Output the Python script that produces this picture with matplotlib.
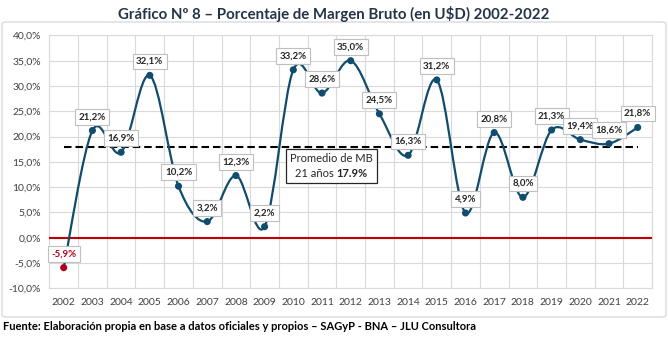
import matplotlib
matplotlib.use("Agg")
import matplotlib.pyplot as plt
import numpy as np
from matplotlib.path import Path
from matplotlib.patches import PathPatch, FancyBboxPatch
from matplotlib.offsetbox import TextArea, HPacker, VPacker, AnnotationBbox
from matplotlib.ticker import FuncFormatter, FixedLocator

# Gross margin (%) per year
years = [str(y) for y in range(2002, 2023)]
margen = [-5.9, 21.2, 16.9, 32.1, 10.2, 3.2, 12.3, 2.2, 33.2, 28.6, 35.0,
          24.5, 16.3, 31.2, 4.9, 20.8, 8.0, 21.3, 19.4, 18.6, 21.8]
promedio = 17.9
y_ticks = list(range(-10, 45, 5))

plt.rcParams['font.family'] = ['Lato', 'DejaVu Sans']

LINE = '#0F4C6E'
NEG = '#B00020'
GRID = '#D9D9D9'
TXT = '#404040'

fig = plt.figure(figsize=(6.68, 3.40), dpi=100)
ax = fig.add_axes([0.0739, 0.1518, 0.9022, 0.7441])

x = np.arange(len(years), dtype=float)
y = np.array(margen, dtype=float)

# smoothed line: cubic Bezier segments with Catmull-Rom tangents
pts = np.column_stack([x, y])
n = len(pts)
verts = [pts[0]]
codes = [Path.MOVETO]
for i in range(n - 1):
    p0 = pts[max(i - 1, 0)]
    p1 = pts[i]
    p2 = pts[i + 1]
    p3 = pts[min(i + 2, n - 1)]
    verts += [p1 + (p2 - p0) / 6.0, p2 - (p3 - p1) / 6.0, p2]
    codes += [Path.CURVE4] * 3
ax.add_patch(PathPatch(Path(verts, codes), facecolor='none', edgecolor=LINE,
                       lw=1.6, zorder=4, capstyle='round', joinstyle='round'))

colors = [NEG if v < 0 else LINE for v in margen]
ax.scatter(x, y, s=26, c=colors, zorder=5, linewidths=0)

# zero line and average line
ax.axhline(0, color='#C00000', lw=1.5, zorder=3)
ax.plot([x[0], x[-1]], [promedio, promedio], color='black', lw=1.5,
        linestyle=(0, (3.6, 1.9)), zorder=3)

# value labels
for xi, v in zip(x, margen):
    lab = f"{v:.1f}%".replace('.', ',')
    ax.annotate(lab, (xi, v), xytext=(0, 10), textcoords='offset points',
                ha='center', va='center', fontsize=7, fontweight='bold',
                color=NEG if v < 0 else '#262626', zorder=6,
                bbox=dict(boxstyle='square,pad=0.35', fc='white', ec='#BFBFBF', lw=0.8))

# average annotation box
line1 = TextArea("Promedio de MB", textprops=dict(fontsize=8, color='#262626'))
l2a = TextArea("21 años ", textprops=dict(fontsize=8, color='#262626'))
l2b = TextArea("17.9%", textprops=dict(fontsize=8, color='#262626', fontweight='bold'))
line2 = HPacker(children=[l2a, l2b], align='baseline', pad=0, sep=0)
pack = VPacker(children=[line1, line2], align='center', pad=0, sep=3)
ab = AnnotationBbox(pack, (0.468, 0.484), xycoords='axes fraction', frameon=True,
                    box_alignment=(0.5, 0.5), pad=0.6,
                    bboxprops=dict(boxstyle='square', ec='#262626', fc='white', lw=0.9))
ab.set_zorder(6)
ax.add_artist(ab)

# axes, ticks, grid
ax.set_xlim(-0.5, len(years) - 0.5)
ax.set_ylim(-10, 40)
ax.set_xticks(x)
ax.set_xticklabels(years)
ax.xaxis.set_minor_locator(FixedLocator(np.arange(-0.5, len(years), 1.0)))
ax.yaxis.set_major_locator(FixedLocator(y_ticks))
ax.yaxis.set_major_formatter(FuncFormatter(lambda v, p: f"{v:.1f}%".replace('.', ',')))
ax.tick_params(axis='both', which='both', length=0, labelsize=7.5, colors=TXT)
ax.tick_params(axis='x', pad=7)
ax.tick_params(axis='y', pad=6)
ax.grid(axis='y', which='major', color=GRID, lw=0.8, zorder=0)
ax.grid(axis='x', which='minor', color=GRID, lw=0.8, zorder=0)
ax.grid(axis='x', which='major', visible=False)
ax.set_axisbelow(True)
for s in ax.spines.values():
    s.set_color(GRID)
    s.set_linewidth(0.8)

# chart frame
frame = FancyBboxPatch((2 / 668, 1 - 317 / 340), 664 / 668, 295 / 340,
                       boxstyle='round,pad=0,rounding_size=0.006',
                       transform=fig.transFigure, fill=False, ec='#D4D4DC', lw=0.9)
fig.patches.append(frame)

fig.text(0.5, 1 - 14 / 340, "Gráfico Nº 8 – Porcentaje de Margen Bruto (en U$D) 2002-2022",
         ha='center', va='center', fontsize=10.8, fontweight='bold', color='#243447')
fig.text(3 / 668, 1 - 326 / 340,
         "Fuente: Elaboración propia en base a datos oficiales y propios – SAGyP - BNA – JLU Consultora",
         ha='left', va='center', fontsize=8.0, fontweight='bold', color='black')

fig.savefig('out.png', dpi=100)
